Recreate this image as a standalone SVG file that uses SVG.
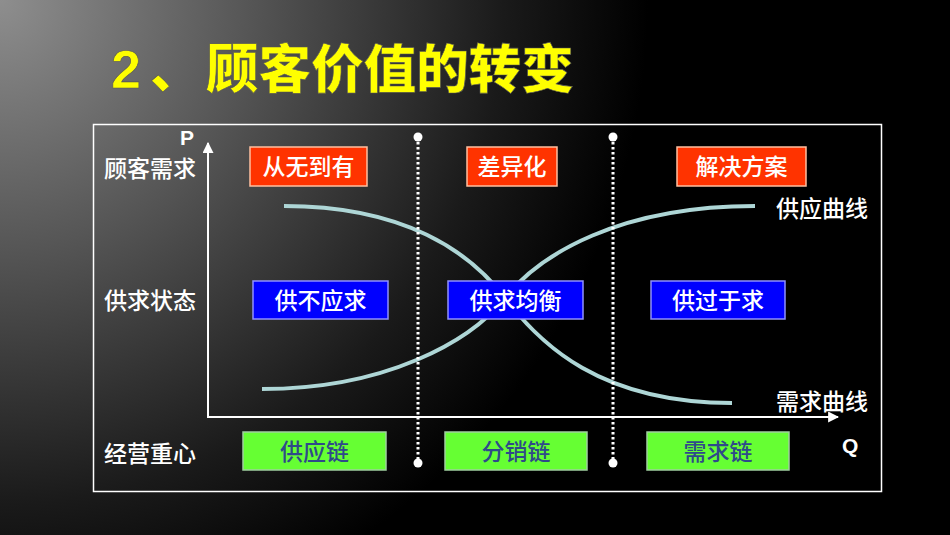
<svg xmlns="http://www.w3.org/2000/svg" width="950" height="535" viewBox="0 0 950 535">
<defs>
<radialGradient id="bg" gradientUnits="userSpaceOnUse" cx="0" cy="0" r="720">
<stop offset="0" stop-color="#8e8e8e"/>
<stop offset="0.35" stop-color="#555"/>
<stop offset="0.7" stop-color="#1a1a1a"/>
<stop offset="0.9" stop-color="#000"/>
</radialGradient>
<marker id="arr" viewBox="0 0 10 10" refX="9" refY="5" markerWidth="5.5" markerHeight="5.5" orient="auto" markerUnits="strokeWidth">
<path d="M0,0 L10,5 L0,10 Z" fill="#fff"/>
</marker>
</defs>
<style>
.lbl{font-family:"Noto Sans CJK SC","Liberation Sans",sans-serif;font-size:23px;font-weight:500;fill:#fff}
.bt{font-family:"Noto Sans CJK SC","Liberation Sans",sans-serif;font-size:23px;font-weight:500;fill:#fff;text-anchor:middle}
.gt{font-family:"Noto Sans CJK SC","Liberation Sans",sans-serif;font-size:23px;font-weight:500;fill:#2f4a8a;text-anchor:middle}
.red{fill:#ff3300;stroke:#ffc0a0;stroke-width:1.5}
.blue{fill:#0000ff;stroke:#9090ff;stroke-width:1.5}
.green{fill:#66ff33;stroke:#a0d0a0;stroke-width:1.5}
.curve{fill:none;stroke:#aed6d6;stroke-width:4}
.dot{stroke:#fff;stroke-width:3;stroke-dasharray:2.5 2.5;fill:none}
.ax{font-family:"Liberation Sans",Arial,sans-serif;font-weight:bold;font-size:21px;fill:#fff}
</style>
<rect x="0" y="0" width="950" height="535" fill="url(#bg)"/>
<g id="title">
<text x="111" y="88" font-family="Liberation Sans, Arial, sans-serif" font-weight="bold" font-size="54" fill="#ffff00" stroke="#555" stroke-width="0.6">2</text>
<text x="150" y="88" font-family="Noto Sans CJK SC, sans-serif" font-weight="900" font-size="52" fill="#ffff00" stroke="#555" stroke-width="0.6">、</text>
<text x="206" y="88" font-family="Noto Sans CJK SC, sans-serif" font-weight="900" font-size="52" fill="#ffff00" stroke="#555" stroke-width="0.6" textLength="368" lengthAdjust="spacingAndGlyphs">顾客价值的转变</text>
</g>
<rect x="93.5" y="124.5" width="788" height="367" fill="none" stroke="#fff" stroke-width="1.5"/>
<g id="connectors">
<path class="curve" d="M284,206 C405,206 470,252 505,298 S600,403 732,403"/>
<path class="curve" d="M262,389 C385,389 470,342 505,298 S620,206 755,206"/>
<path class="dot" d="M418,137 V463"/>
<path class="dot" d="M613,137 V463"/>
<circle cx="418" cy="137" r="4.5" fill="#fff"/>
<circle cx="418" cy="463" r="4.5" fill="#fff"/>
<circle cx="613" cy="137" r="4.5" fill="#fff"/>
<circle cx="613" cy="463" r="4.5" fill="#fff"/>
<path d="M208,417 V143" stroke="#fff" stroke-width="2" fill="none" marker-end="url(#arr)"/>
<path d="M207,417 H838" stroke="#fff" stroke-width="2" fill="none" marker-end="url(#arr)"/>
</g>
<g id="axis-labels">
<text class="ax" x="180" y="145">P</text>
<text class="ax" x="842" y="453">Q</text>
</g>
<g id="row-labels">
<text class="lbl" x="104" y="177">顾客需求</text>
<text class="lbl" x="104" y="309">供求状态</text>
<text class="lbl" x="104" y="462">经营重心</text>
<text class="lbl" x="776" y="217">供应曲线</text>
<text class="lbl" x="776" y="410">需求曲线</text>
</g>
<g id="n-r1"><rect class="red" x="250" y="147" width="117" height="39"/><text class="bt" x="308.5" y="175">从无到有</text></g>
<g id="n-r2"><rect class="red" x="467" y="147" width="90" height="39"/><text class="bt" x="512" y="175">差异化</text></g>
<g id="n-r3"><rect class="red" x="677" y="147" width="129" height="39"/><text class="bt" x="741.5" y="175">解决方案</text></g>
<g id="n-b1"><rect class="blue" x="253" y="281" width="135" height="38"/><text class="bt" x="320.5" y="309">供不应求</text></g>
<g id="n-b2"><rect class="blue" x="448" y="281" width="135" height="38"/><text class="bt" x="515.5" y="309">供求均衡</text></g>
<g id="n-b3"><rect class="blue" x="651" y="281" width="134" height="38"/><text class="bt" x="718" y="309">供过于求</text></g>
<g id="n-g1"><rect class="green" x="243" y="432" width="143" height="38"/><text class="gt" x="314.5" y="460">供应链</text></g>
<g id="n-g2"><rect class="green" x="445" y="432" width="142" height="38"/><text class="gt" x="516" y="460">分销链</text></g>
<g id="n-g3"><rect class="green" x="647" y="432" width="142" height="38"/><text class="gt" x="718" y="460">需求链</text></g>
</svg>
